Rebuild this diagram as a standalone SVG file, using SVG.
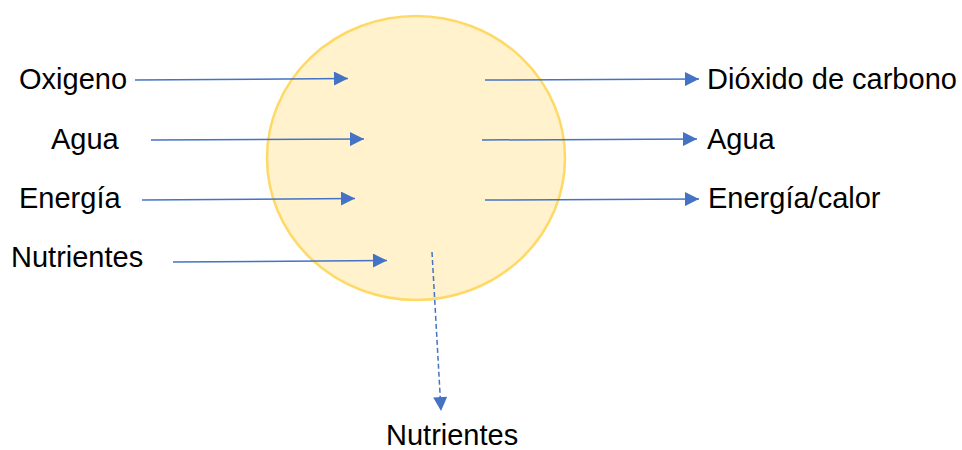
<svg xmlns="http://www.w3.org/2000/svg" width="962" height="450" viewBox="0 0 962 450">
<style>
text{font-family:"Liberation Sans",Arial,sans-serif;font-size:29px;fill:#000}
.c{stroke:#4472C4;stroke-width:1.5;fill:none;marker-end:url(#ah)}
.d{stroke-dasharray:5 3}
</style>
<defs>
<marker id="ah" viewBox="0 0 10 10" refX="10" refY="5" markerUnits="userSpaceOnUse" markerWidth="16" markerHeight="14" orient="auto">
<path d="M0,0 L10,5 L0,10 Z" fill="#4472C4"/>
</marker>
</defs>
<rect width="962" height="450" fill="#fff"/>
<g id="cell">
<ellipse cx="416" cy="158" rx="149" ry="142" fill="#FFF2CC" stroke="#FFD966" stroke-width="2.5"/>
</g>
<g id="labels">
<text id="t-oxigeno" x="19" y="89">Oxigeno</text>
<text id="t-agua-in" x="51" y="149">Agua</text>
<text id="t-energia-in" x="19" y="208">Energía</text>
<text id="t-nutrientes-in" x="11" y="267">Nutrientes</text>
<text id="t-co2" x="707" y="89">Dióxido de carbono</text>
<text id="t-agua-out" x="707" y="149">Agua</text>
<text id="t-energia-out" x="708" y="208">Energía/calor</text>
<text id="t-nutrientes-out" x="386" y="445">Nutrientes</text>
</g>
<g id="connectors">
<line class="c" x1="135" y1="80" x2="348" y2="78.5"/>
<line class="c" x1="151" y1="140" x2="364" y2="139"/>
<line class="c" x1="142" y1="200" x2="355" y2="198.5"/>
<line class="c" x1="173" y1="262" x2="387" y2="260.5"/>
<line class="c" x1="485" y1="80" x2="699" y2="79"/>
<line class="c" x1="482" y1="140" x2="697" y2="139"/>
<line class="c" x1="485" y1="200" x2="699" y2="199"/>
<line class="c d" x1="432" y1="252" x2="441" y2="411"/>
</g>
</svg>
